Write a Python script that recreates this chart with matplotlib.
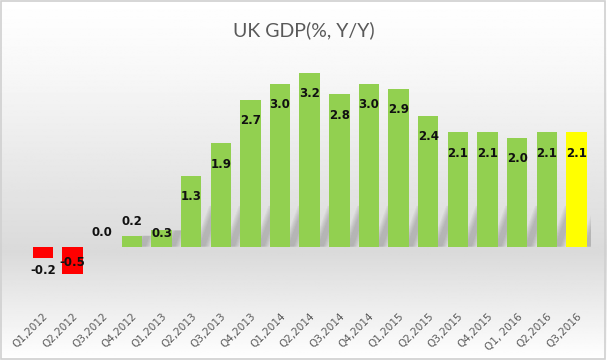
import numpy as np
import matplotlib
matplotlib.use("Agg")
from matplotlib import pyplot as plt

# data
quarters = ["Q1,2012", "Q2,2012", "Q3,2012", "Q4,2012", "Q1,2013", "Q2,2013",
            "Q3,2013", "Q4,2013", "Q1,2014", "Q2,2014", "Q3,2014", "Q4,2014",
            "Q1,2015", "Q2,2015", "Q3,2015", "Q4,2015", "Q1, 2016", "Q2,2016",
            "Q3,2016"]
gdp = [-0.2, -0.5, 0.0, 0.2, 0.3, 1.3, 1.9, 2.7, 3.0, 3.2, 2.8, 3.0, 2.9,
       2.4, 2.1, 2.1, 2.0, 2.1, 2.1]

colors = []
for v in gdp:
    colors.append("#FF0000" if v < 0 else "#92D050")
colors[-1] = "#FFFF00"

fig = plt.figure(figsize=(6.07, 3.6), dpi=100)

# background gradient (white at top, grey low down, lighter at bottom)
bg = fig.add_axes([0, 0, 1, 1], zorder=0)
yy = np.linspace(0, 1, 300)
shade = np.interp(yy, [0, 0.2, 0.7, 1.0], [1.0, 0.97, 0.855, 1.0])
bg.imshow(np.repeat(shade[:, None], 2, axis=1), cmap="gray", vmin=0, vmax=1,
          aspect="auto", extent=[0, 1, 0, 1], origin="upper")
bg.set_xlim(0, 1)
bg.set_ylim(0, 1)
bg.axis("off")
border = plt.Rectangle((0.002, 0.003), 0.995, 0.994, transform=fig.transFigure,
                       fill=False, edgecolor="#d0d0d0", lw=1.2)
fig.patches.append(border)

ax = fig.add_axes([0.0465, 0.15, 0.9275, 0.686], zorder=1)
ax.patch.set_alpha(0)
x = np.arange(len(gdp))
w = 0.69
ax.bar(x, gdp, width=w, color=colors, zorder=3)

# slanted soft shadows at the bar bases
for xi, v in zip(x, gdp):
    if v <= 0.05:
        continue
    xr = xi + w / 2
    top = min(v, 0.75)
    run = 0.5 * top / 0.75
    for k in range(5):
        spread = 0.04 * k
        poly = plt.Polygon([(xr - 0.08 - spread, 0.0), (xr + 0.12 + spread, 0.0),
                            (xr + run + 0.12 + spread, top),
                            (xr + run - 0.08 - spread, top)],
                           closed=True, color="#606060", alpha=0.07, lw=0, zorder=2)
        ax.add_patch(poly)

ax.set_xlim(-0.5, len(gdp) - 0.5)
ax.set_ylim(-1.09, 3.45)

for xi, v in zip(x, gdp):
    if v >= 1.0:
        dy = -15
    elif v == 0.3:
        dy = -2
    elif v >= 0:
        dy = 10
    elif v > -0.3:
        dy = -9
    else:
        dy = 8
    ax.annotate(f"{v:.1f}", (xi, v), xytext=(0, dy), textcoords="offset points",
                ha="center", va="center", fontsize=8.5, fontweight="bold",
                color="#111111", zorder=4)

ax.set_xticks(x)
ax.set_xticklabels(quarters, rotation=45, ha="right", va="top",
                   rotation_mode="anchor", fontsize=7.5, color="#595959")
ax.tick_params(axis="x", length=0, pad=4)
ax.set_yticks([])
for s in ax.spines.values():
    s.set_visible(False)

fig.text(0.5, 0.915, "UK GDP(%, Y/Y)", ha="center", va="center",
         fontsize=14, color="#595959", family=["Lato", "DejaVu Sans"])

fig.savefig("out.png", dpi=100)
